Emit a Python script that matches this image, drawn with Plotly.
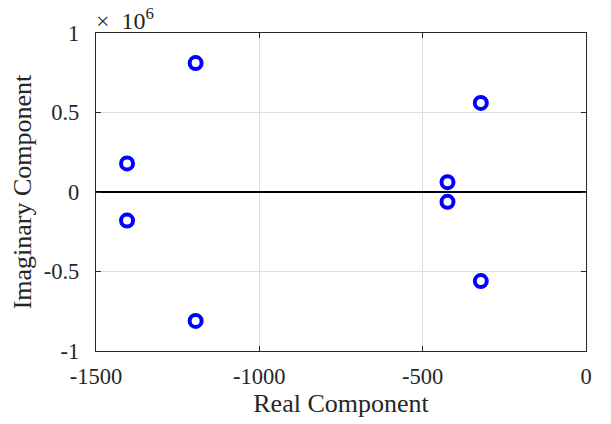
import plotly.graph_objects as go

real_part = [-1195, -1195, -1405, -1405, -424, -424, -322, -322]
imag_part = [0.811e6, -0.811e6, 0.180e6, -0.180e6, 0.062e6, -0.062e6, 0.560e6, -0.560e6]

x_ticks = [-1500, -1000, -500, 0]
x_ticktext = ["-1500", "-1000", "-500", "0"]
y_ticks = [-1e6, -0.5e6, 0, 0.5e6, 1e6]
y_ticktext = ["-1", "-0.5", "0", "0.5", "1"]

font_family = "Liberation Serif, Times New Roman, serif"
tick_size = 22.5
label_size = 26

fig = go.Figure()
fig.add_trace(go.Scatter(
    x=real_part, y=imag_part, mode="markers",
    marker=dict(symbol="circle-open", size=12, color="#0000ff",
                line=dict(width=4, color="#0000ff")),
    showlegend=False, hoverinfo="x+y"))

fig.update_layout(
    width=611, height=424,
    margin=dict(l=96, r=25, t=33, b=73),
    paper_bgcolor="white", plot_bgcolor="white",
    font=dict(family=font_family, size=tick_size, color="#262626"),
    xaxis=dict(range=[-1500, 0], tickvals=x_ticks, ticktext=x_ticktext,
               tickfont=dict(size=tick_size),
               showgrid=True, gridcolor="#dcdcdc", gridwidth=1,
               zeroline=False, showline=True, linecolor="#262626", linewidth=1.3,
               mirror="ticks", ticks="inside", ticklen=5, tickcolor="#262626",
               title=dict(text="Real Component", standoff=2,
                          font=dict(size=label_size)),
               ticklabelstandoff=5),
    yaxis=dict(range=[-1e6, 1e6], tickvals=y_ticks, ticktext=y_ticktext,
               tickfont=dict(size=tick_size),
               showgrid=True, gridcolor="#dcdcdc", gridwidth=1,
               zeroline=True, zerolinecolor="#000000", zerolinewidth=1.5,
               showline=True, linecolor="#262626", linewidth=1.3,
               mirror="ticks", ticks="inside", ticklen=5, tickcolor="#262626",
               title=dict(text="Imaginary Component", standoff=4,
                          font=dict(size=label_size)),
               ticklabelstandoff=11),
    annotations=[dict(text="×\u00a0\u00a010<sup>6</sup>", xref="paper", yref="paper",
                      x=0.0, y=1.0, xanchor="left", yanchor="bottom",
                      showarrow=False, font=dict(size=24, family=font_family,
                                                 color="#262626"),
                      xshift=-2, yshift=-3)],
)

fig.write_html("out.html")
